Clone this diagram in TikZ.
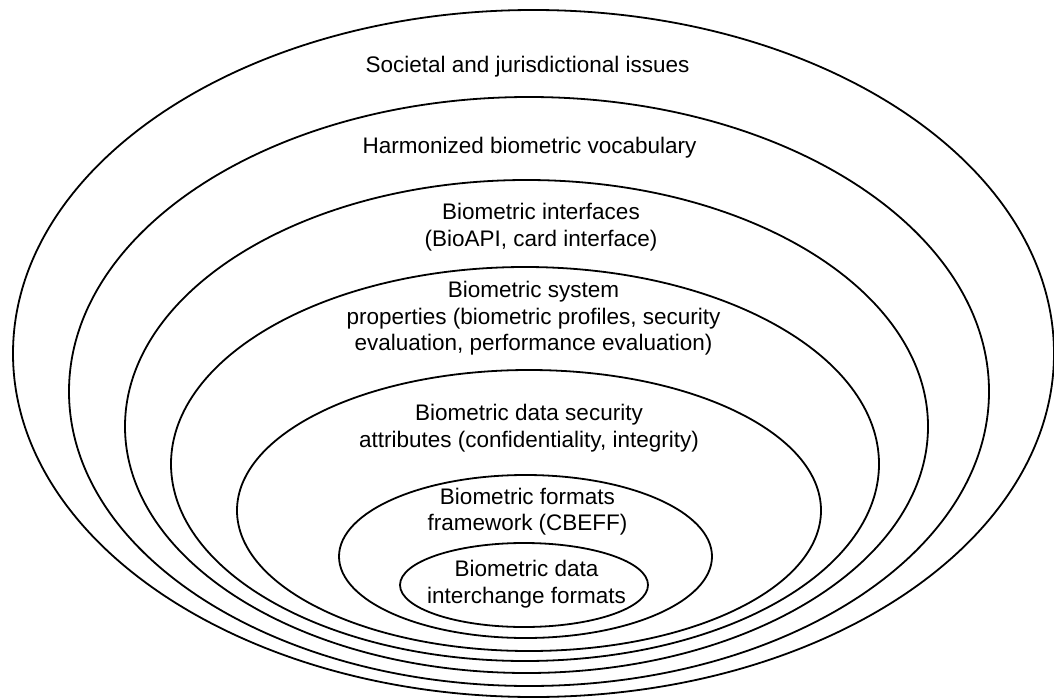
\documentclass[tikz,border=0pt]{standalone}
\usepackage{fontspec}
\setmainfont{Liberation Sans}
\usetikzlibrary{shapes.geometric}
\tikzset{
  ring/.style={draw=black, line width=1.8pt, ellipse, inner sep=0pt, outer sep=0pt},
  lab/.style={align=center, inner sep=0pt, font=\fontsize{22.5}{26.5}\selectfont}
}
\begin{document}
\begin{tikzpicture}[x=1pt,y=-1pt]
\useasboundingbox (0,0) rectangle (1054,698);
\node[ring, minimum width=1041pt, minimum height=687pt] (e1) at (533.5,353.5) {};
\node[ring, minimum width=920pt, minimum height=589pt] (e2) at (529,391.5) {};
\node[ring, minimum width=803pt, minimum height=493pt] (e3) at (526.5,426.5) {};
\node[ring, minimum width=708pt, minimum height=394pt] (e4) at (525,464) {};
\node[ring, minimum width=584pt, minimum height=281pt] (e5) at (529,510.5) {};
\node[ring, minimum width=373pt, minimum height=163pt] (e6) at (525.5,556.5) {};
\node[ring, minimum width=248pt, minimum height=84pt] (e7) at (524,585) {};
\node[lab] (t1) at (527.5,67) {Societal and jurisdictional issues};
\node[lab] (t2) at (529.5,148) {Harmonized biometric vocabulary};
\node[lab] (t3) at (541,227) {Biometric interfaces\\(BioAPI, card interface)};
\node[lab] (t4) at (533.5,318.5) {Biometric system\\properties (biometric profiles, security\\evaluation, performance evaluation)};
\node[lab] (t5) at (529,428) {Biometric data security\\attributes (confidentiality, integrity)};
\node[lab] (t6) at (527.5,511.5) {Biometric formats\\framework (CBEFF)};
\node[lab] (t7) at (526.5,584) {Biometric data\\interchange formats};
\end{tikzpicture}
\end{document}
